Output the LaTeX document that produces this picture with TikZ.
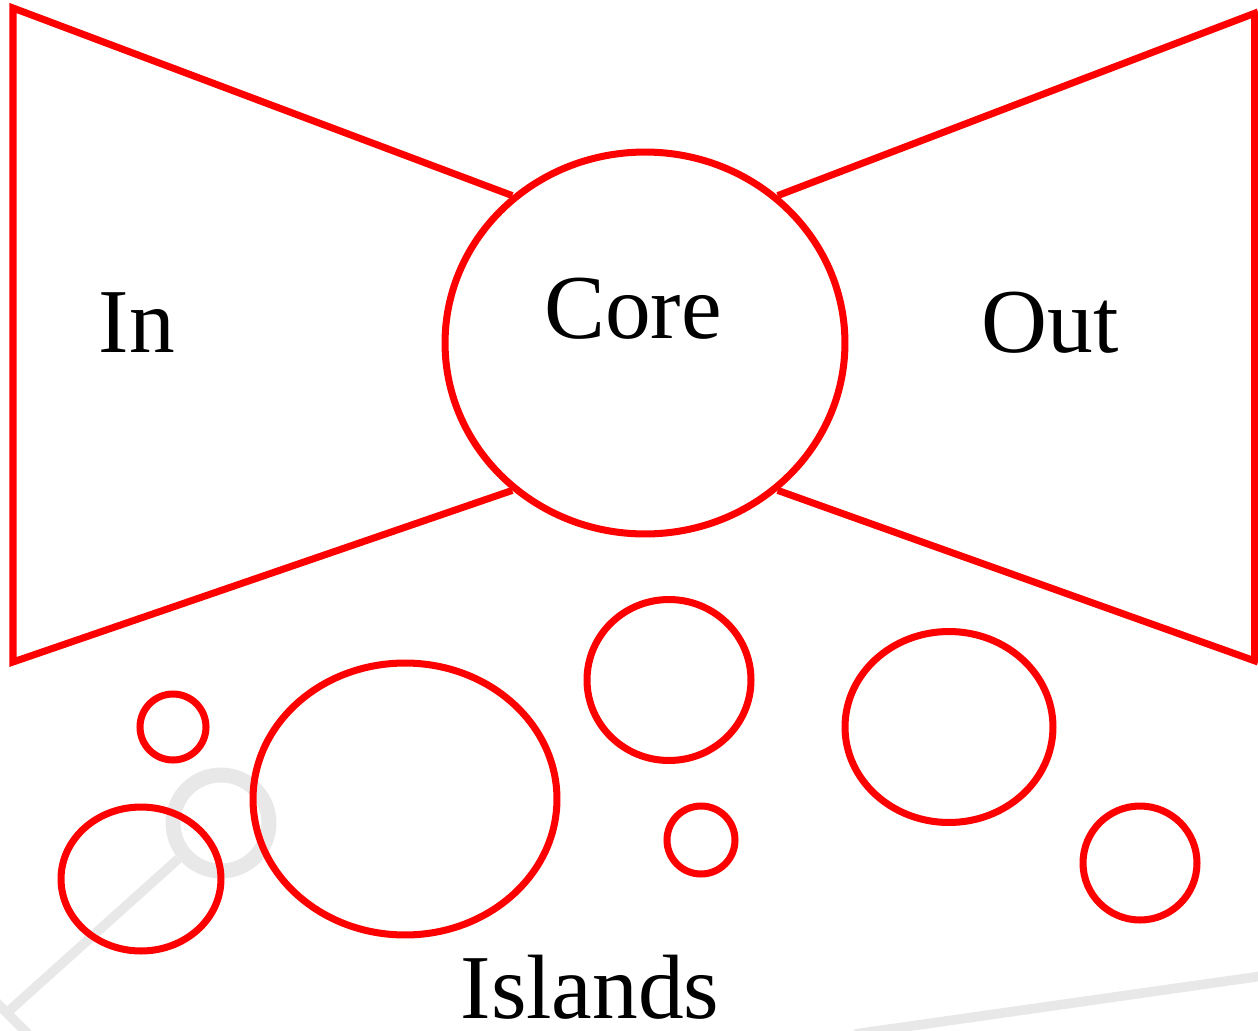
\documentclass[tikz,border=0pt]{standalone}
\usepackage{fontspec}
\setmainfont{Liberation Serif}
\usetikzlibrary{shapes.geometric}

\begin{document}
\begin{tikzpicture}[x=0.02cm, y=-0.02cm,
  part/.style = {draw=red, line width=4pt},
  blob/.style = {shape=ellipse, draw=red, line width=4pt, inner sep=0pt},
  word/.style = {anchor=base, font=\fontsize{52}{56}\selectfont},
  shade/.style = {draw=black!9, line width=5.5pt}]
  \useasboundingbox (0,0) rectangle (1258,1031);
  % faint lines in the background
  \node[shape=circle, shade, line width=8.5pt, minimum size=1.92cm, inner sep=0pt] (ring) at (221,823) {};
  \coordinate (elbow) at (10,1010);
  \draw[shade] (ring.220) -- (elbow);
  \draw[shade] (-10,996) -- (28,1034);
  \draw[shade] (855,1034) -- (1262,976);
  % the bow tie
  \node[blob, minimum width=8cm, minimum height=7.64cm] (core) at (645,343) {};
  \coordinate (inTop) at (13,8);
  \coordinate (inBot) at (13,662);
  \coordinate (outTop) at (1258,12);
  \coordinate (outBot) at (1258,662);
  \draw[part] (core.132) -- (inTop) -- (inBot) -- (core.228);
  \draw[part] (core.48) -- (outTop);
  \draw[part] (core.312) -- (outBot);
  \draw[part] (1255,12) -- (1255,662);
  \node[word] (inLabel) at (137,352) {In};
  \node[word] (coreLabel) at (633,338) {Core};
  \node[word] (outLabel) at (1050,352) {Out};
  % islands
  \node[blob, minimum width=1.32cm, minimum height=1.32cm] (isl1) at (173,727) {};
  \node[blob, minimum width=3.2cm, minimum height=2.88cm] (isl2) at (141,879) {};
  \node[blob, minimum width=6.08cm, minimum height=5.44cm] (isl3) at (405,799) {};
  \node[blob, minimum width=3.28cm, minimum height=3.22cm] (isl4) at (669,680) {};
  \node[blob, minimum width=1.36cm, minimum height=1.36cm] (isl5) at (701,840) {};
  \node[blob, minimum width=4.16cm, minimum height=3.82cm] (isl6) at (949,727) {};
  \node[blob, minimum width=2.28cm, minimum height=2.28cm] (isl7) at (1140,863) {};
  \node[word] (islLabel) at (590,1018) {Islands};
\end{tikzpicture}
\end{document}
